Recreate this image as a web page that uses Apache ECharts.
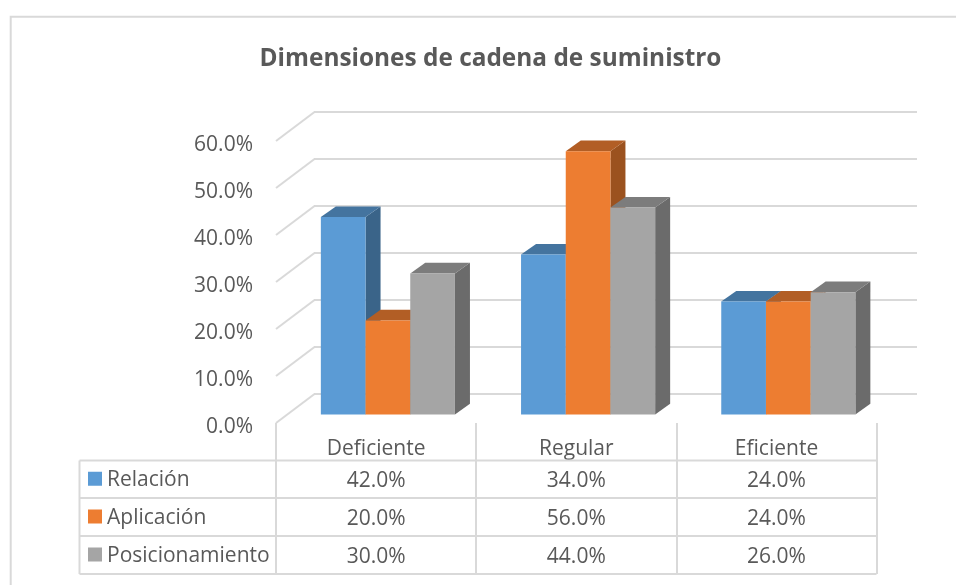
<!DOCTYPE html>
<html>
<head>
<meta charset="utf-8">
<style>
  html, body { margin: 0; padding: 0; background: #fff; }
  #chart { width: 956px; height: 585px; }
</style>
<script src="https://cdn.jsdelivr.net/npm/echarts@6/dist/echarts.min.js"></script>
</head>
<body>
<div id="chart"></div>
<script>
var categories = ['Deficiente', 'Regular', 'Eficiente']
var relacion = [42, 34, 24]
var aplicacion = [20, 56, 24]
var posicionamiento = [30, 44, 26]
var yTicks = [0, 10, 20, 30, 40, 50, 60]

var seriesNames = ['Relación', 'Aplicación', 'Posicionamiento']
var seriesValues = [relacion, aplicacion, posicionamiento]
var faceColors = ['#5B9BD5', '#ED7D31', '#A5A5A5']
var topColors = ['#44749F', '#B25E25', '#7C7C7C']
var sideColors = ['#3A6489', '#9B521F', '#6B6B6B']

var FONT = '"Open Sans", sans-serif'
var TEXT = '#595959'
var LINE = '#D9D9D9'
var LINE_W = 2
var BAR_W = 44.7
var DEPTH_X = 15
var DEPTH_Y = 10.6
var ROWS_Y = [460.5, 498, 536, 574]

function barItem(k) {
  return function(params, api) {
    var cat = api.value(0)
    var top = api.coord([cat, api.value(1)])
    var base = api.coord([cat, 0])
    var x0 = top[0] + (k - 1.5) * BAR_W
    var x1 = x0 + BAR_W
    return {
      type: 'group',
      children: [
        { type: 'polygon', shape: { points: [[x1, top[1]], [x1 + DEPTH_X, top[1] - DEPTH_Y], [x1 + DEPTH_X, base[1] - DEPTH_Y], [x1, base[1]]] }, style: { fill: sideColors[k] } },
        { type: 'polygon', shape: { points: [[x0, top[1]], [x1, top[1]], [x1 + DEPTH_X, top[1] - DEPTH_Y], [x0 + DEPTH_X, top[1] - DEPTH_Y]] }, style: { fill: topColors[k] } },
        { type: 'rect', shape: { x: x0, y: top[1], width: BAR_W, height: base[1] - top[1] }, style: { fill: faceColors[k] } }
      ]
    }
  }
}

var barSeries = seriesNames.map(function(name, k) {
  return {
    name: name,
    type: 'custom',
    xAxisIndex: 2,
    yAxisIndex: 2,
    z: 5,
    renderItem: barItem(k),
    data: categories.map(function(c, i) { return [i, seriesValues[k][i]] })
  }
})

// diagonales de la pared lateral
var sideWall = {
  type: 'custom',
  xAxisIndex: 0,
  yAxisIndex: 0,
  z: 1,
  silent: true,
  renderItem: function(params, api) {
    var front = api.coord([0, api.value(0)])
    var frontX = front[0] - api.size([1, 0])[0] / 2
    return {
      type: 'line',
      shape: { x1: frontX, y1: front[1], x2: frontX + 38.5, y2: front[1] - 29 },
      style: { stroke: LINE, lineWidth: LINE_W }
    }
  },
  data: yTicks.map(function(v) { return [v] })
}

// tabla de datos debajo del grafico
var tableRows = {
  type: 'custom',
  xAxisIndex: 0,
  yAxisIndex: 0,
  z: 3,
  silent: true,
  renderItem: function(params, api) {
    var k = params.dataIndex
    var midY = (ROWS_Y[k] + ROWS_Y[k + 1]) / 2
    var children = [{
      type: 'rect',
      shape: { x: 88, y: midY - 7.5, width: 14, height: 14 },
      style: { fill: faceColors[k] }
    }, {
      type: 'text',
      style: { x: 107, y: midY + 1, text: seriesNames[k], fill: TEXT, font: '21px ' + FONT, verticalAlign: 'middle' }
    }]
    categories.forEach(function(c, i) {
      children.push({
        type: 'text',
        style: {
          x: api.coord([i, 0])[0],
          y: midY + 2,
          text: seriesValues[k][i].toFixed(1) + '%',
          fill: TEXT,
          font: '21px ' + FONT,
          align: 'center',
          verticalAlign: 'middle'
        }
      })
    })
    ROWS_Y.slice(k, k + 2).forEach(function(y) {
      children.push({ type: 'line', shape: { x1: 79.5, y1: y, x2: 876.5, y2: y }, style: { stroke: LINE, lineWidth: LINE_W } })
    })
    children.push({ type: 'line', shape: { x1: 79.5, y1: ROWS_Y[k], x2: 79.5, y2: ROWS_Y[k + 1] }, style: { stroke: LINE, lineWidth: LINE_W } })
    return { type: 'group', children: children }
  },
  data: seriesNames.map(function(n, k) { return [k] })
}

function hiddenX(gridIndex) {
  return { type: 'category', gridIndex: gridIndex, data: categories, show: false }
}
function hiddenY(gridIndex) {
  return { type: 'value', gridIndex: gridIndex, min: 0, max: 60, interval: 10, show: false }
}

var chart = echarts.init(document.getElementById('chart'), null, { renderer: 'canvas' })
chart.setOption({
  animation: false,
  backgroundColor: '#fff',
  title: {
    text: 'Dimensiones de cadena de suministro',
    left: 485.5,
    top: 42,
    textAlign: 'center',
    textStyle: { color: TEXT, fontFamily: FONT, fontSize: 24.4, fontWeight: 'bold' }
  },
  graphic: [{
    type: 'polyline',
    z: -1,
    shape: { points: [[10.7, 585], [10.7, 16.7], [956, 16.7]] },
    style: { fill: 'none', stroke: LINE, lineWidth: LINE_W }
  }],
  grid: [
    // plano frontal: diagonales y categorias
    { left: 276, top: 141, width: 600.6, height: 282 },
    // pared del fondo
    { left: 314, top: 112, width: 603, height: 282 },
    // plano de las barras
    { left: 287.8, top: 132.4, width: 600.6, height: 282 },
    // etiquetas del eje de valores
    { left: 276, top: 145, width: 600.6, height: 282 }
  ],
  xAxis: [
    {
      type: 'category',
      gridIndex: 0,
      data: categories,
      axisLine: { show: false },
      axisTick: { show: true, length: 151, lineStyle: { color: LINE, width: LINE_W } },
      axisLabel: { color: TEXT, fontFamily: FONT, fontSize: 21, margin: 16 }
    },
    hiddenX(1),
    hiddenX(2),
    hiddenX(3)
  ],
  yAxis: [
    hiddenY(0),
    {
      type: 'value',
      gridIndex: 1,
      min: 0,
      max: 60,
      interval: 10,
      axisLine: { show: false },
      axisTick: { show: false },
      axisLabel: { show: false },
      splitLine: { show: true, lineStyle: { color: LINE, width: LINE_W } }
    },
    hiddenY(2),
    {
      type: 'value',
      gridIndex: 3,
      min: 0,
      max: 60,
      interval: 10,
      axisLine: { show: false },
      axisTick: { show: false },
      splitLine: { show: false },
      axisLabel: {
        color: TEXT,
        fontFamily: FONT,
        fontSize: 21,
        margin: 23,
        formatter: function(v) { return v.toFixed(1) + '%' }
      }
    }
  ],
  series: [sideWall, tableRows].concat(barSeries)
})
</script>
</body>
</html>
